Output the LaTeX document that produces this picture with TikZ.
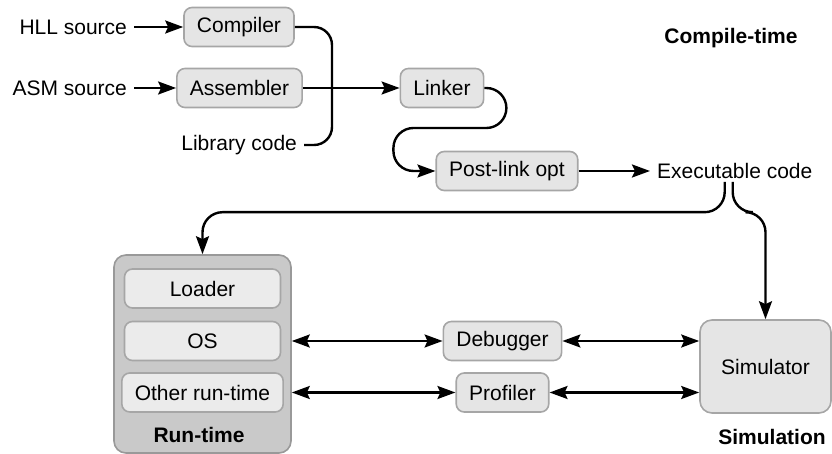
\documentclass[tikz,border=0pt]{standalone}
\usepackage{fontspec}
\setmainfont{Liberation Sans}
\usetikzlibrary{arrows.meta,positioning,calc}

\begin{document}
\begin{tikzpicture}[x=0.5pt, y=-0.5pt,
		font=\fontsize{10.5}{12.5}\selectfont,
		procbox/.style={draw=gray!70, fill=gray!20, line width=0.8pt, rounded corners=4pt,
			minimum height=19.5pt, inner xsep=6.5pt},
		rtbox/.style={draw=gray!80, fill=gray!42, line width=0.8pt, rounded corners=6pt},
		title/.style={font=\fontsize{10.5}{12.5}\selectfont\bfseries},
		wire/.style={line width=1.2pt, black, -{Stealth[length=9pt, width=6.5pt, inset=1.5pt]}},
		bus/.style={line width=1.2pt, black},
		twoway/.style={line width=1.2pt, black,
			{Stealth[length=9pt, width=6.5pt, inset=1.5pt]}-{Stealth[length=9pt, width=6.5pt, inset=1.5pt]}}
	]

		% fixed frame
		\useasboundingbox (0,0) rectangle (832,454);

		% Compile-time chain
		\node[anchor=east] (hll) at (134,27) {HLL source};
		\node[procbox] (comp) at (239,27) {Compiler};
		\node[anchor=east] (asm) at (134,88) {ASM source};
		\node[procbox] (asmb) at (239.5,88) {Assembler};
		\node[anchor=east] (lib) at (304,145) {Library code};
		\node[procbox] (lnk) at (442,88) {Linker};
		\node[procbox] (plo) at (507,171) {Post-link opt};
		\node[anchor=west] (exe) at (650,171) {Executable code};
		\node[title] (ctime) at (731,38) {Compile-time};
		\coordinate (jn) at (332,88);

		% Run-time box with its parts
		\node[rtbox, minimum width=88.5pt, minimum height=99pt] (rt) at (202.5,354) {};
		\foreach \name/\txt/\y in {ldr/Loader/288.5, os/OS/341, oth/Other run-time/392.5}
			\node[procbox, fill=gray!16, minimum width=78pt] (\name) at (202.5,\y) {\txt};
		\node[title] (rtlbl) at (199,435) {Run-time};

		% Tools and simulation
		\node[procbox] (dbg) at (502.5,341) {Debugger};
		\node[procbox] (prof) at (502.5,392.5) {Profiler};
		\node[procbox, rounded corners=6pt, minimum width=65.5pt, minimum height=46.5pt] (sim) at (765.5,366.5) {Simulator};
		\node[title] (simlbl) at (772,437) {Simulation};

		% Connections
		\draw[wire] (hll) -- (comp);
		\draw[wire] (asm) -- (asmb);
		\draw[bus, rounded corners=9] (comp.east) -| (jn) |- (lib.east);
		\draw[wire] (asmb) -- (lnk);
		\draw[wire, rounded corners=10] (lnk.east) -| ++(22,40) -| ($(plo.west)+(-42,0)$) -- (plo.west);
		\draw[wire] (plo) -- (exe);
		\draw[wire, rounded corners=10] ($(exe.south)+(-10,-4)$) |- ($(rt.north)+(0,-42)$) -- (rt.north);
		\draw[wire, rounded corners=10] ($(exe.south)+(-2,-4)$) |- ($(sim.north)+(0,-107)$) -- (sim.north);

		\draw[twoway] (rt.east |- os) -- (dbg);
		\draw[twoway] (rt.east |- oth) -- (prof);
		\draw[twoway] (dbg) -- (sim.west |- dbg);
		\draw[twoway] (prof) -- (sim.west |- prof);

	\end{tikzpicture}
\end{document}
